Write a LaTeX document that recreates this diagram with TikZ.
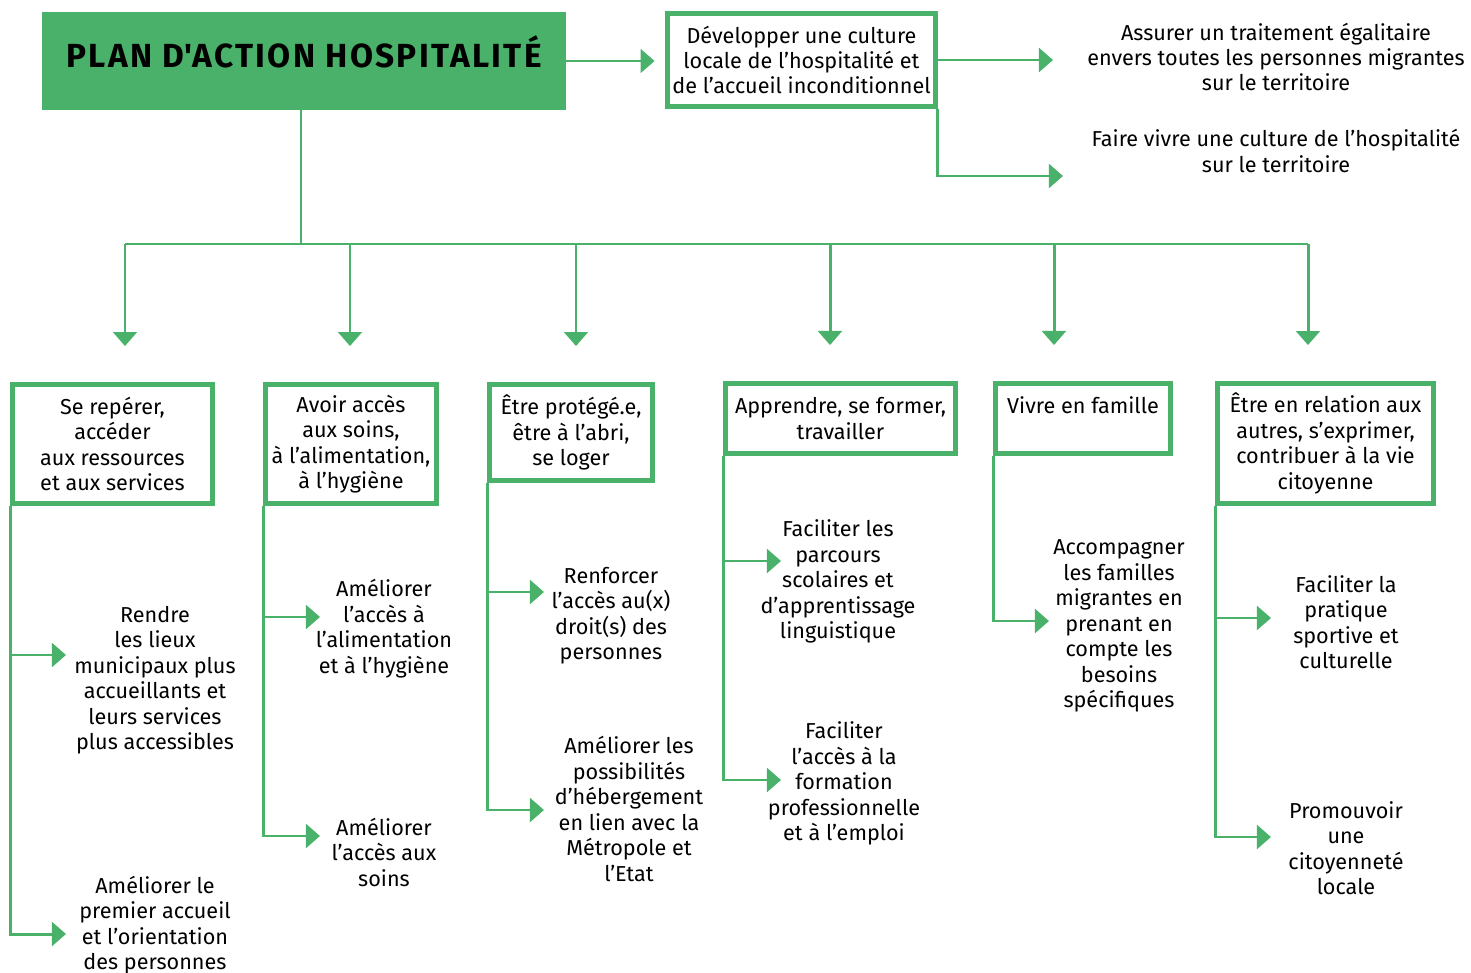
\documentclass[tikz,border=0pt]{standalone}
\usepackage{fontspec}
\setmainfont{Fira Sans}
\usetikzlibrary{arrows.meta,positioning}
\definecolor{hgreen}{RGB}{74,177,107}

\begin{document}
\begin{tikzpicture}[x=0.02cm, y=-0.02cm,
                    link/.style={draw=hgreen, line width=1.7pt},
                    arr/.style={link, -{Triangle[length=8pt, width=13.5pt]}},
                    box/.style={draw=hgreen, line width=2.8pt, fill=white, align=center,
                                inner sep=1pt, font=\fontsize{12.3}{14.5}\selectfont},
                    txt/.style={align=center, inner sep=0pt, font=\fontsize{12.3}{14.5}\selectfont}]
    %\draw[help lines] (0,0) grid (1471,973);
    \useasboundingbox (0,0) rectangle (1471,973);

   \node[fill=hgreen, minimum width=10.48cm, minimum height=1.96cm, text height=0.5cm,
         text depth=0.25cm, font=\fontsize{19}{21}\selectfont\bfseries\addfontfeature{LetterSpace=7}]
         (title) at (304,61) {PLAN D\textquotesingle ACTION HOSPITALITÉ};
   \node[box, minimum width=5.36cm, minimum height=1.86cm] (cult) at (801.5,60)
         {Développer une culture\\locale de l’hospitalité et\\de l’accueil inconditionnel};
   \node[txt] (t01) at (1276,57) {Assurer un traitement égalitaire\\envers toutes les personnes migrantes\\sur le territoire};
   \node[txt] (t02) at (1276,151) {Faire vivre une culture de l’hospitalité\\sur le territoire};

   % Define axes
   \node[box, minimum width=4cm, minimum height=2.38cm] (b1) at (112.5,444)
         {Se repérer,\\accéder\\aux ressources\\et aux services};
   \node[box, minimum width=3.42cm, minimum height=2.38cm] (b2) at (351,444)
         {Avoir accès\\aux soins,\\à l’alimentation,\\à l’hygiène};
   \node[box, minimum width=3.26cm, minimum height=1.92cm] (b3) at (571,432.5)
         {Être protégé.e,\\être à l’abri,\\se loger};
   \node[box, minimum width=4.6cm, minimum height=1.4cm] (b4) at (840.5,418.5)
         {Apprendre, se former,\\travailler};
   \node[box, minimum width=3.5cm, minimum height=1.4cm, text depth=0.55cm] (b5) at (1083,418.5)
         {Vivre en famille};
   \node[box, minimum width=4.32cm, minimum height=2.4cm] (b6) at (1325.5,443.5)
         {Être en relation aux\\autres, s’exprimer,\\contribuer à la vie\\citoyenne};

   % Define actions
   \node[txt] (r11) at (155,680) {Rendre\\les lieux\\municipaux plus\\accueillants et\\leurs services\\plus accessibles};
   \node[txt] (r12) at (155,925) {Améliorer le\\premier accueil\\et l’orientation\\des personnes};
   \node[txt] (r21) at (384,628.5) {Améliorer\\l’accès à\\l’alimentation\\et à l’hygiène};
   \node[txt] (r22) at (384,852) {Améliorer\\l’accès aux\\soins};
   \node[txt] (r31) at (611,615.5) {Renforcer\\l’accès au(x)\\droit(s) des\\personnes};
   \node[txt] (r32) at (629,809) {Améliorer les\\possibilités\\d’hébergement\\en lien avec la\\Métropole et\\l’Etat};
   \node[txt] (r41) at (838,581.5) {Faciliter les\\parcours\\scolaires et\\d’apprentissage\\linguistique};
   \node[txt] (r42) at (844,783.5) {Faciliter\\l’accès à la\\formation\\professionnelle\\et à l’emploi};
   \node[txt] (r51) at (1119,626) {Accompagner\\les familles\\migrantes en\\prenant en\\compte les\\besoins\\spécifiques};
   \node[txt] (r61) at (1346,622) {Faciliter la\\pratique\\sportive et\\culturelle};
   \node[txt] (r62) at (1346,848) {Promouvoir\\une\\citoyenneté\\locale};

   % Tree points and arrow tips
   \coordinate (hub) at (301,244);
   \coordinate (d1) at (125,244);
   \coordinate (d2) at (350,244);
   \coordinate (d3) at (576,244);
   \coordinate (d4) at (830,244);
   \coordinate (d5) at (1054,244);
   \coordinate (d6) at (1308,244);
   \coordinate (a01) at (1053,60);
   \coordinate (a02) at (1063,176);
   \coordinate (a11) at (66,655);
   \coordinate (a12) at (66,934);
   \coordinate (a21) at (320,617);
   \coordinate (a22) at (320,836);
   \coordinate (a31) at (544,592);
   \coordinate (a32) at (544,810);
   \coordinate (a41) at (781,561);
   \coordinate (a42) at (781,780);
   \coordinate (a51) at (1049,621);
   \coordinate (a61) at (1271,618);
   \coordinate (a62) at (1271,837);

   % Define links
   \draw[link] (title.south -| hub) -- (hub);
   \draw[link] (d1) -- (d6);
   \draw[arr, shorten >=0.72cm] (d1) -- (d1 |- b1.north);
   \draw[arr, shorten >=0.72cm] (d2) -- (d2 |- b2.north);
   \draw[arr, shorten >=0.72cm] (d3) -- (d3 |- b3.north);
   \draw[arr, shorten >=0.72cm] (d4) -- (d4 |- b4.north);
   \draw[arr, shorten >=0.72cm] (d5) -- (d5 |- b5.north);
   \draw[arr, shorten >=0.72cm] (d6) -- (d6 |- b6.north);
   \draw[arr, shorten >=0.21cm] (title.east) -- (cult.west |- title.east);
   \draw[arr] (cult.east |- a01) -- (a01);
   \draw[arr] (cult.south east) |- (a02);

   \draw[arr] (b1.south west) |- (a12);
   \draw[arr] (b1.south west |- a11) -- (a11);
   \draw[arr] (b2.south west) |- (a22);
   \draw[arr] (b2.south west |- a21) -- (a21);
   \draw[arr] (b3.south west) |- (a32);
   \draw[arr] (b3.south west |- a31) -- (a31);
   \draw[arr] (b4.south west) |- (a42);
   \draw[arr] (b4.south west |- a41) -- (a41);
   \draw[arr] (b5.south west) |- (a51);
   \draw[arr] (b6.south west) |- (a62);
   \draw[arr] (b6.south west |- a61) -- (a61);

\end{tikzpicture}
\end{document}
